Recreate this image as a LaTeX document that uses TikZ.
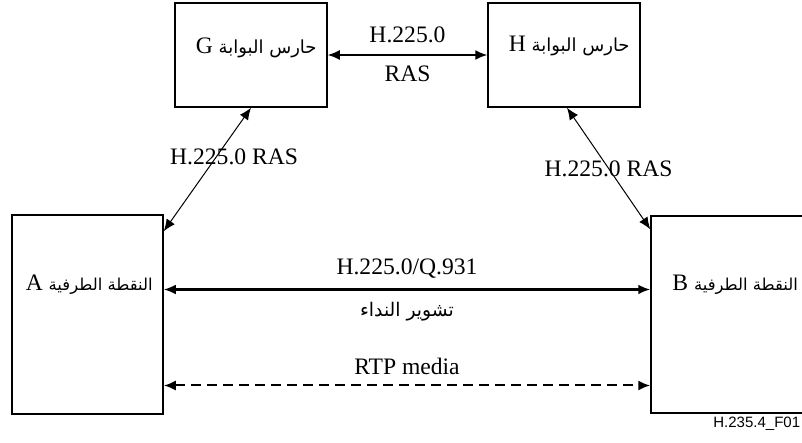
\documentclass[tikz,border=0pt]{standalone}
\usepackage{fontspec}
\setmainfont{Liberation Serif}
\setsansfont{Liberation Sans}
\newfontfamily\arabicfont[Script=Arabic]{DejaVu Sans}
\TeXXeTstate=1
\usetikzlibrary{arrows.meta,calc}

% Arabic words inside the box titles
\newcommand\artitle[2][9bp]{{\arabicfont\fontsize{#1}{11bp}\selectfont #2}}

\begin{document}
\begin{tikzpicture}[
  x=0.5bp, y=-0.5bp,
  font=\fontsize{11.8bp}{14bp}\selectfont,
  box/.style={draw, line width=0.75bp, inner sep=0pt},
  title/.style={inner sep=0pt},
  lbl/.style={inner sep=0pt},
  twoway/.style={{Latex[length=6bp,width=5bp]}-{Latex[length=6bp,width=5bp]}},
  ras/.style={twoway, line width=0.5bp},
  call/.style={twoway, line width=1.2bp},
  media/.style={twoway, line width=1bp, dash pattern=on 5bp off 3bp}
  ]
  \clip (0,0) rectangle (802,443);

  % gatekeepers
  \node[box, minimum width=76bp, minimum height=52bp] (G) at (251,55) {};
  \node[box, minimum width=76bp, minimum height=52bp] (H) at (564,55) {};
  % endpoints (B runs off the right edge)
  \node[box, minimum width=75.5bp, minimum height=99.5bp] (A) at (87.5,314.5) {};
  \node[box, minimum width=82bp, minimum height=98.5bp] (B) at (733,314.5) {};

  \node[title, anchor=east] (Gname) at (317,48) {\beginR\artitle{حارس البوابة} G\endR};
  \node[title, anchor=east] (Hname) at (630,46) {\beginR\artitle{حارس البوابة} H\endR};
  \node[title, anchor=east] (Aname) at (153,285) {\beginR\artitle[8.2bp]{النقطة الطرفية} A\endR};
  \node[title, anchor=west] (Bname) at (672,285) {\beginR\artitle[8.2bp]{النقطة الطرفية} B\endR};

  % RAS between the gatekeepers
  \draw[twoway, line width=0.75bp] (G.east) -- (H.west)
    node[lbl, midway, above=5.5bp] (GHtop) {H.225.0}
    node[lbl, midway, below=5bp] (GHbot) {RAS};

  % RAS endpoint to gatekeeper
  \draw[ras] ([yshift=-8.5bp]A.north east) -- (G.south)
    node[lbl, pos=0.6, xshift=9bp] (AGlbl) {H.225.0 RAS};
  \draw[ras] ([yshift=-7bp]B.north west) -- ([xshift=1.5bp]H.south)
    node[lbl, midway] (BHlbl) {H.225.0 RAS};

  % call signalling and media
  \draw[call] ($(A.east)+(0,-25)$) -- ($(B.west)+(0,-25)$)
    node[lbl, midway, above=5bp] (sigtop) {H.225.0/Q.931}
    node[lbl, midway, below=6bp, font=\fontsize{9.4bp}{11bp}\selectfont] (sigbot)
      {\beginR\arabicfont تشوير النداء\endR};
  \draw[media] ($(A.east)+(0,71)$) -- ($(B.west)+(0,71)$)
    node[lbl, midway, above=5bp] (rtp) {RTP media};

  \node[anchor=west, inner sep=0pt, font=\sffamily\fontsize{7.5bp}{9bp}\selectfont]
    (fig) at (713,424) {H.235.4\_F01};
\end{tikzpicture}
\end{document}
